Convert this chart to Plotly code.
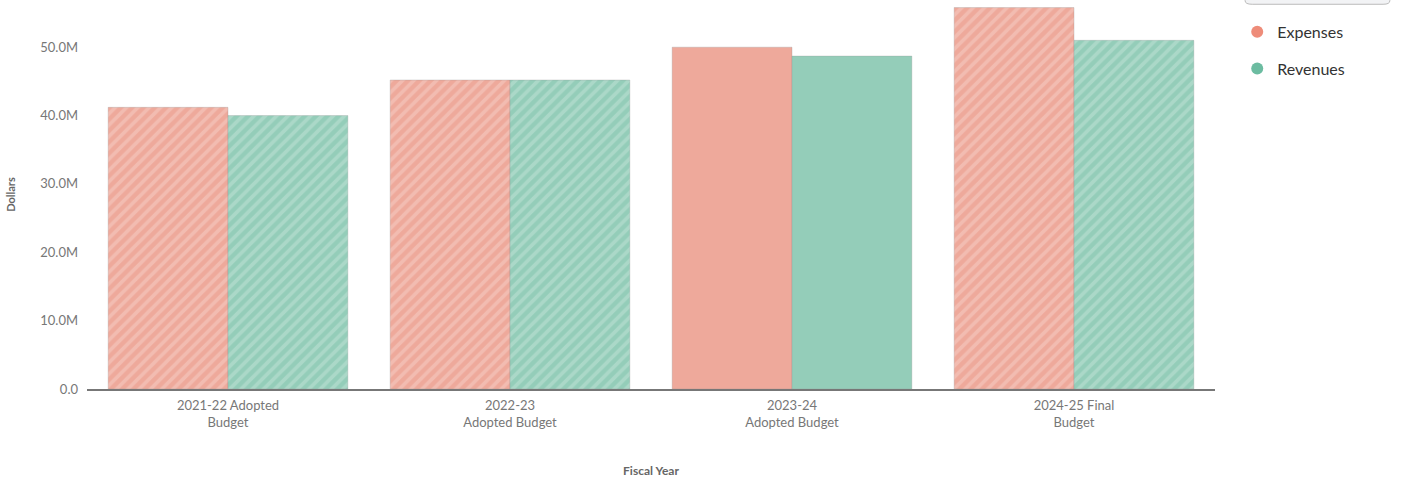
import plotly.graph_objects as go

categories = ["2021-22 Adopted<br>Budget", "2022-23<br>Adopted Budget",
              "2023-24<br>Adopted Budget", "2024-25 Final<br>Budget"]
expenses = [41.2e6, 45.2e6, 50.0e6, 55.8e6]
revenues = [40.0e6, 45.2e6, 48.7e6, 51.0e6]
hatched = [True, True, False, True]

y_ticks = [0, 10e6, 20e6, 30e6, 40e6, 50e6]
y_tick_labels = ["0.0", "10.0M", "20.0M", "30.0M", "40.0M", "50.0M"]

exp_color = "#EEA99B"
rev_color = "#94CDB9"
font_family = "Lato, 'Open Sans', sans-serif"

def patterns(flags):
    return ["/" if f else "" for f in flags]

fig = go.Figure()
for name, vals, col in [("Expenses", expenses, exp_color), ("Revenues", revenues, rev_color)]:
    fig.add_trace(go.Bar(
        x=categories, y=vals, name=name, showlegend=False,
        marker=dict(color=col, line=dict(width=0.5, color="rgba(150,150,150,0.6)"),
                    pattern=dict(shape=patterns(hatched), fgcolor="#ffffff", fgopacity=0.22,
                                 size=8, solidity=0.45)),
    ))
# circular legend entries
for name, col in [("Expenses", "#EE8C79"), ("Revenues", "#6CBCA1")]:
    fig.add_trace(go.Scatter(
        x=[None], y=[None], mode="markers", name=name, legendgroup=name,
        marker=dict(symbol="circle", size=11, color=col),
    ))

fig.update_layout(
    width=1422, height=487,
    margin=dict(l=87, r=207, t=0, b=98),
    paper_bgcolor="white", plot_bgcolor="white",
    barmode="group", bargap=0.15, bargroupgap=0,
    font=dict(family=font_family, color="#777777", size=13),
    legend=dict(x=1.0197, y=0.962, xanchor="left", yanchor="top",
                font=dict(size=16, color="#333333"), itemsizing="constant",
                tracegroupgap=13, bgcolor="rgba(0,0,0,0)"),
    xaxis=dict(
        showgrid=False, showline=True, linecolor="#777777", linewidth=2,
        ticks="", tickfont=dict(size=13, color="#777777"), ticklabelstandoff=3,
        title=dict(text="<b>Fiscal Year</b>", font=dict(size=12, color="#666666"), standoff=38),
    ),
    yaxis=dict(
        range=[0, 56.9e6], showgrid=False, zeroline=False, showline=False,
        tickvals=y_ticks, ticktext=y_tick_labels, ticks="", ticklabelstandoff=8,
        tickfont=dict(size=13, color="#777777"),
        title=dict(text="<b>Dollars</b>", font=dict(size=11, color="#666666"), standoff=22),
    ),
    shapes=[dict(type="path", xref="paper", yref="paper",
                 path="M 1.0267 1.05 L 1.0267 0.998 Q 1.0267 0.989 1.033 0.989 "
                      "L 1.149 0.989 Q 1.155 0.989 1.155 0.998 L 1.155 1.05",
                 line=dict(color="#BBBBBB", width=1), fillcolor="#F2F3F5")],
)

fig.write_html("out.html")
